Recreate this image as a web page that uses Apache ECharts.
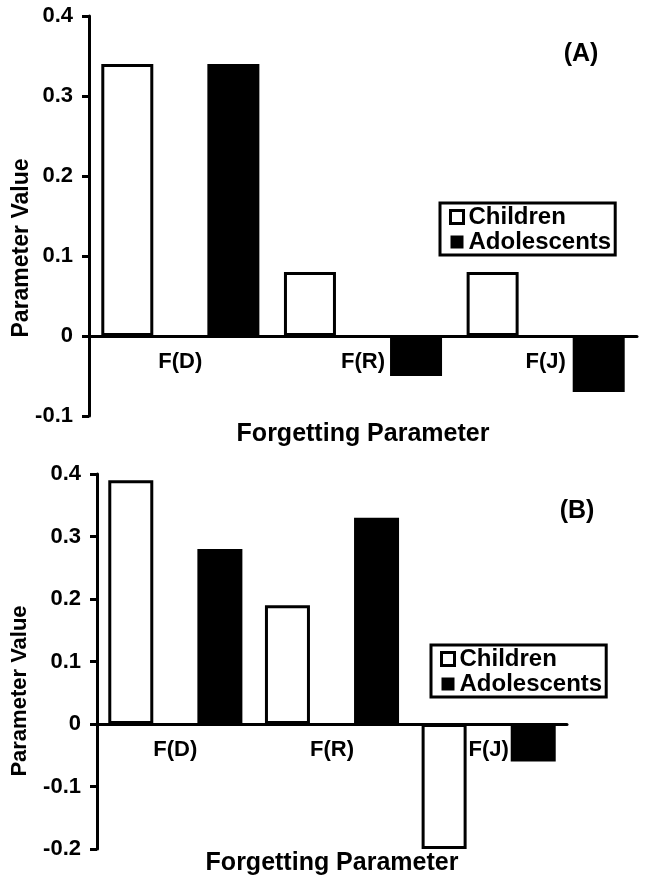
<!DOCTYPE html>
<html>
<head>
<meta charset="utf-8">
<script src="https://cdn.jsdelivr.net/npm/echarts@6/dist/echarts.min.js"></script>
<style>
  html, body { margin: 0; padding: 0; background: #fff; }
  #chart { width: 645px; height: 884px; }
</style>
</head>
<body>
<div id="chart"></div>
<script>
// 数据
const categories = ['F(D)', 'F(R)', 'F(J)'];
const childrenA = [0.34, 0.08, 0.08];
const adolescentsA = [0.34, -0.05, -0.07];
const childrenB = [0.39, 0.19, -0.20];
const adolescentsB = [0.28, 0.33, -0.06];

const FONT = '"Liberation Sans", Arial, sans-serif';
const black = '#000';

// 纵轴
function makeYAxis(gridIndex, min) {
  return {
    type: 'value',
    gridIndex: gridIndex,
    min: min,
    max: 0.4,
    interval: 0.1,
    axisLine: { show: true, lineStyle: { color: black, width: 3 } },
    axisTick: { show: true, length: 7, lineStyle: { color: black, width: 3 } },
    axisLabel: { color: black, fontWeight: 'bold', fontSize: 22, fontFamily: FONT, margin: 16 },
    splitLine: { show: false }
  };
}

// 横轴（标签相对网格底部定位，所以用负的 margin 把它们拉到零线下方）
function makeXAxis(gridIndex, labelMargin, nameGap) {
  return {
    type: 'category',
    gridIndex: gridIndex,
    data: categories,
    name: 'Forgetting Parameter',
    nameLocation: 'middle',
    nameGap: nameGap,
    nameTextStyle: { color: black, fontWeight: 'bold', fontSize: 25, fontFamily: FONT },
    axisLine: { onZero: true, lineStyle: { color: black, width: 3 } },
    axisTick: { show: false },
    axisLabel: { color: black, fontWeight: 'bold', fontSize: 22, fontFamily: FONT, margin: labelMargin },
    splitLine: { show: false }
  };
}

function makeLegend(left, top) {
  return {
    orient: 'vertical',
    left: left,
    top: top,
    data: [
      { name: 'Children', itemStyle: { color: '#fff', borderColor: black, borderWidth: 3 } },
      { name: 'Adolescents', itemStyle: { color: black, borderColor: black, borderWidth: 0 } }
    ],
    borderColor: black,
    borderWidth: 3,
    padding: [2, 4, 1, 9],
    itemGap: 1,
    itemWidth: 13,
    itemHeight: 13,
    icon: 'rect',
    textStyle: { color: black, fontWeight: 'bold', fontSize: 24, fontFamily: FONT, lineHeight: 20 }
  };
}

const childStyle = { color: '#fff', borderColor: black, borderWidth: 3 };
const adolStyle = { color: black, borderColor: black, borderWidth: 3 };

const option = {
  backgroundColor: '#fff',
  animation: false,
  grid: [
    { left: 89, right: 8, top: 16, height: 400, outerBoundsMode: 'none', containLabel: false },
    { left: 97, right: 78, top: 474, height: 375, outerBoundsMode: 'none', containLabel: false }
  ],
  xAxis: [makeXAxis(0, -65, 6), makeXAxis(1, -110, 2)],
  yAxis: [makeYAxis(0, -0.1), makeYAxis(1, -0.2)],
  legend: [makeLegend(440, 203), makeLegend(431, 645)],
  series: [
    { name: 'Children', type: 'bar', xAxisIndex: 0, yAxisIndex: 0, data: childrenA,
      barWidth: 52, barGap: '104%', itemStyle: childStyle },
    { name: 'Adolescents', type: 'bar', xAxisIndex: 0, yAxisIndex: 0, data: adolescentsA,
      barWidth: 52, barGap: '104%', itemStyle: adolStyle },
    { name: 'Children', type: 'bar', xAxisIndex: 1, yAxisIndex: 1, data: childrenB,
      barWidth: 45, barGap: '98%', itemStyle: childStyle },
    { name: 'Adolescents', type: 'bar', xAxisIndex: 1, yAxisIndex: 1, data: adolescentsB,
      barWidth: 45, barGap: '98%', itemStyle: adolStyle }
  ],
  graphic: [
    { type: 'text', x: 581, y: 54,
      style: { text: '(A)', font: 'bold 25px ' + FONT, fill: black, textAlign: 'center', textVerticalAlign: 'middle' } },
    { type: 'text', x: 577, y: 511,
      style: { text: '(B)', font: 'bold 25px ' + FONT, fill: black, textAlign: 'center', textVerticalAlign: 'middle' } },
    { type: 'text', x: 22, y: 248, rotation: Math.PI / 2,
      style: { text: 'Parameter Value', font: 'bold 23px ' + FONT, fill: black, textAlign: 'center', textVerticalAlign: 'middle' } },
    { type: 'text', x: 20, y: 691, rotation: Math.PI / 2,
      style: { text: 'Parameter Value', font: 'bold 22px ' + FONT, fill: black, textAlign: 'center', textVerticalAlign: 'middle' } }
  ]
};

const chart = echarts.init(document.getElementById('chart'));
chart.setOption(option);
</script>
</body>
</html>
